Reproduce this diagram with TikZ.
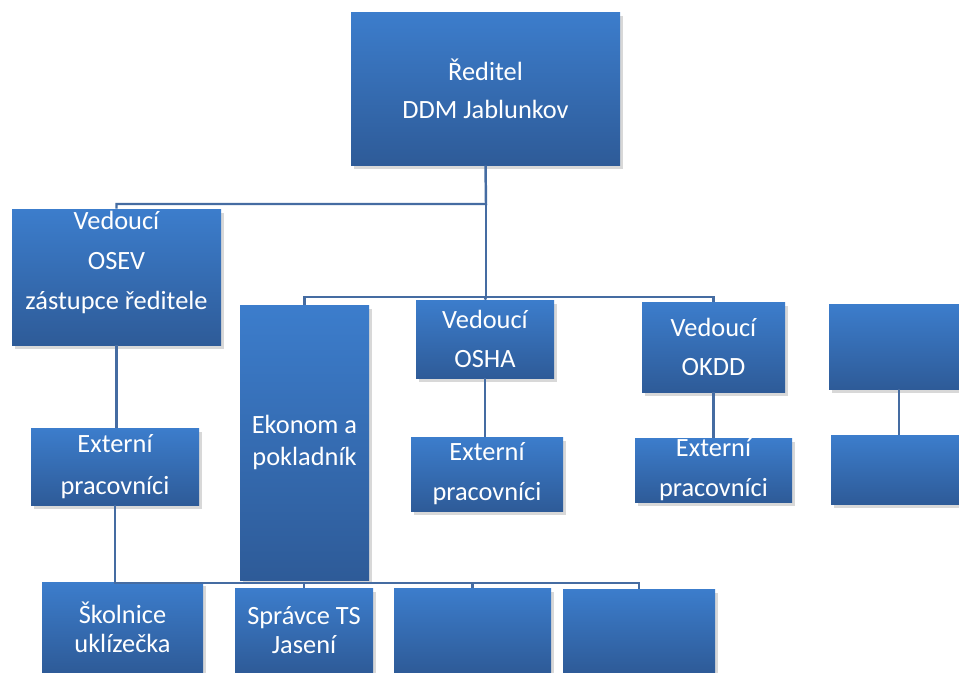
\documentclass[tikz,border=0pt]{standalone}
\usepackage{fontspec}
\setmainfont{Carlito}
\usetikzlibrary{shadows}
\definecolor{boxtop}{HTML}{3C7DCC}
\definecolor{boxbot}{HTML}{2E5B98}
\definecolor{linkblue}{HTML}{456CA2}
\begin{document}
\begin{tikzpicture}[
  box/.style={rectangle, top color=boxtop, bottom color=boxbot, text=white, align=center, inner sep=0pt,
    drop shadow={opacity=0.3, shadow xshift=0.05cm, shadow yshift=-0.07cm},
    font=\fontsize{15}{22.5}\selectfont},
  link/.style={draw=linkblue, line width=1.4pt},
  tight/.style={font=\fontsize{15}{16.5}\selectfont}
]
\clip (0,0) rectangle (19.18,-13.44);
\fill[white] (0,0) rectangle (19.18,-13.44);

% top level
\node[box, minimum width=5.38cm, minimum height=3.06cm, font=\fontsize{15}{21.5}\selectfont] (director) at (9.71,-1.77) {Ředitel\\DDM Jablunkov};

% second row
\node[box, minimum width=4.18cm, minimum height=2.72cm] (osev) at (2.33,-5.54) {Vedoucí\\OSEV\\zástupce ředitele\\[-3.5pt]\mbox{}};
\node[box, minimum width=2.58cm, minimum height=5.50cm, font=\fontsize{15}{18}\selectfont] (ekonom) at (6.09,-8.85) {Ekonom a\\pokladník};
\node[box, minimum width=2.76cm, minimum height=1.56cm] (osha) at (9.70,-6.78) {Vedoucí\\OSHA};
\node[box, minimum width=2.86cm, minimum height=1.80cm] (okdd) at (14.27,-6.94) {Vedoucí\\OKDD};
\node[box, minimum width=2.80cm, minimum height=1.70cm] (blankA) at (17.98,-6.93) {};

% external workers
\node[box, minimum width=3.36cm, minimum height=1.54cm, font=\fontsize{15}{23.8}\selectfont] (extOsev) at (2.30,-9.33) {Externí\\pracovníci};
\node[box, minimum width=3.04cm, minimum height=1.48cm, font=\fontsize{15}{22.7}\selectfont] (extOsha) at (9.74,-9.48) {Externí\\pracovníci};
\node[box, minimum width=3.14cm, minimum height=1.28cm, font=\fontsize{15}{22.7}\selectfont] (extOkdd) at (14.27,-9.40) {Externí\\pracovníci};
\node[box, minimum width=2.72cm, minimum height=1.38cm] (blankB) at (17.98,-9.39) {};

% bottom row
\node[box, tight, minimum width=3.22cm, minimum height=1.80cm] (skolnice) at (2.45,-12.54) {Školnice\\uklízečka};
\node[box, tight, minimum width=2.76cm, minimum height=1.68cm] (spravce) at (6.08,-12.60) {Správce TS\\Jasení};
\node[box, minimum width=3.14cm, minimum height=1.68cm] (blankC) at (9.45,-12.60) {};
\node[box, minimum width=3.04cm, minimum height=1.66cm] (blankD) at (12.78,-12.61) {};

% connectors
\coordinate (busTop) at (9.72,-4.08);
\coordinate (busMid) at (9.72,-5.94);
\coordinate (busLow) at (2.40,-11.66);

\draw[link] (director.south) -- (busTop) -| (osev.north);
\draw[link] (busTop) -- (busMid);
\draw[link] (ekonom.north) |- (busMid) -| (okdd.north);
\draw[link] (busMid) -- (osha.north);

\draw[link] (osev.south) -- (osev.south |- extOsev.north);
\draw[link] (osha.south) -- (osha.south |- extOsha.north);
\draw[link] (okdd.south) -- (okdd.south |- extOkdd.north);
\draw[link] (blankA.south) -- (blankB.north);

\draw[link] (extOsev.south) |- (busLow) -| (blankD.north);
\draw[link] (busLow -| spravce.north) -- (spravce.north);
\draw[link] (busLow -| blankC.north) -- (blankC.north);
\end{tikzpicture}
\end{document}
